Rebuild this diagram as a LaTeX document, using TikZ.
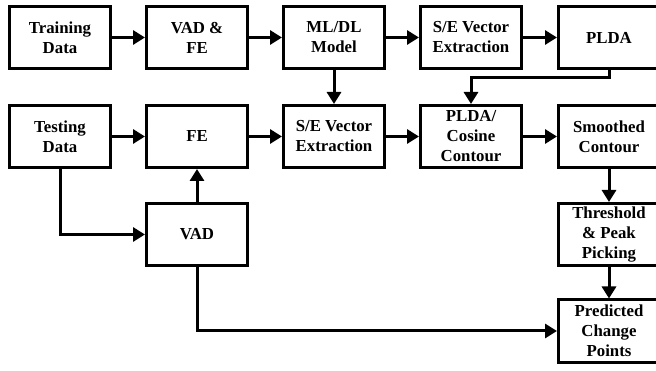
\documentclass[tikz,border=0pt]{standalone}
\usepackage{fontspec}
\setmainfont{Liberation Serif}
\usepackage{tikz}
\usetikzlibrary{positioning,shapes,arrows.meta}

\begin{document}
\begin{tikzpicture}[x=1pt,y=1pt,
    blk/.style={draw,shape=rectangle,line width=3pt,minimum width=101pt,minimum height=62pt,
      align=center,inner sep=0.5pt,font=\fontsize{16.8}{20}\selectfont\bfseries},
    arr/.style={line width=3pt,-{Triangle[length=12pt,width=14pt]}}]
\useasboundingbox (0,0) rectangle (656,-371);
% training path
\draw node (t0) at (60,-37.5) [blk]{Training\\Data};
\draw node (t1) at (197,-37.5) [blk]{VAD \&\\FE};
\draw node (t2) at (334,-37.5) [blk]{ML/DL\\Model};
\draw node (t3) at (471,-37.5) [blk]{S/E Vector\\Extraction};
\draw node (t4) at (609,-37.5) [blk]{PLDA};
% testing path
\draw node (s0) at (60,-136.5) [blk]{Testing\\Data};
\draw node (s1) at (197,-136.5) [blk]{FE};
\draw node (s2) at (334,-136.5) [blk]{S/E Vector\\Extraction};
\draw node (s3) at (471,-136.5) [blk]{PLDA/\\Cosine\\Contour};
\draw node (s4) at (609,-136.5) [blk]{Smoothed\\Contour};
\draw node (vad) at (197,-234.5) [blk]{VAD};
\draw node (thr) at (609,-234.5) [blk]{Threshold\\\& Peak\\Picking};
\draw node (cp) at (609,-331) [blk]{Predicted\\Change\\Points};
\coordinate (c1) at (609,-78);
\coordinate (c2) at (471,-78);
\draw[arr] (t0) -- (t1);
\draw[arr] (t1) -- (t2);
\draw[arr] (t2) -- (t3);
\draw[arr] (t3) -- (t4);
\draw[arr] (t2) -- (s2);
\draw[arr] (t4.south) -- (c1) -- (c2) -- (s3.north);
\draw[arr] (s0) -- (s1);
\draw[arr] (s1) -- (s2);
\draw[arr] (s2) -- (s3);
\draw[arr] (s3) -- (s4);
\draw[arr] (s4) -- (thr);
\draw[arr] (thr) -- (cp);
\draw[arr] (vad) -- (s1);
\draw[arr] (s0.south) |- (vad.west);
\draw[arr] (vad.south) |- (cp.west);
\end{tikzpicture}
\end{document}
